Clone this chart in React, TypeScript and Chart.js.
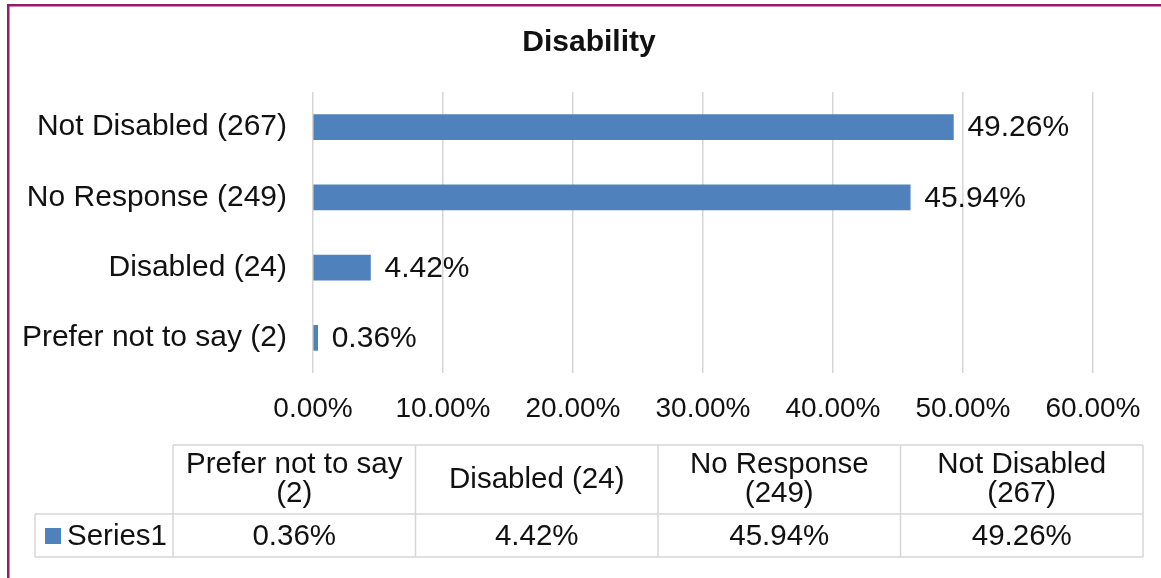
import React, { useEffect, useRef } from "react";
import { Chart, registerables } from "chart.js";

Chart.register(...registerables);

const chartTitle = "Disability";
const categories = ["Not Disabled (267)", "No Response (249)", "Disabled (24)", "Prefer not to say (2)"];
const values = [49.26, 45.94, 4.42, 0.36];
const seriesName = "Series1";
const xMin = 0;
const xMax = 60;
const xStep = 10;

const FONT = '"Liberation Sans", Arial, sans-serif';
const BAR = "#4f81bd";
const TEXT = "#111111";
const GRID = "#d6d6d6";
const FRAME = "#951a6d";

const fmt = (v: number) => v.toFixed(2) + "%";

function wrap(ctx: CanvasRenderingContext2D, text: string, maxW: number): string[] {
  const words = text.split(" ");
  const lines: string[] = [];
  let cur = "";
  for (const w of words) {
    const test = cur ? cur + " " + w : w;
    if (ctx.measureText(test).width > maxW && cur) {
      lines.push(cur);
      cur = w;
    } else cur = test;
  }
  if (cur) lines.push(cur);
  return lines;
}

const decorPlugin = {
  id: "decor",
  afterDatasetsDraw(chart: any) {
    const ctx = chart.ctx as CanvasRenderingContext2D;
    const meta = chart.getDatasetMeta(0);
    const data = chart.data.datasets[0].data as number[];
    ctx.save();
    ctx.font = `30px ${FONT}`;
    ctx.fillStyle = TEXT;
    ctx.textAlign = "left";
    ctx.textBaseline = "middle";
    meta.data.forEach((bar: any, i: number) => {
      ctx.fillText(fmt(data[i]), bar.x + 14, bar.y + 1);
    });
    ctx.restore();
  },
  afterDraw(chart: any) {
    const ctx = chart.ctx as CanvasRenderingContext2D;
    const labels = (chart.data.labels as string[]).slice().reverse();
    const data = (chart.data.datasets[0].data as number[]).slice().reverse();
    ctx.save();
    // frame
    ctx.fillStyle = FRAME;
    ctx.fillRect(7, 4, chart.width - 7, 2.5);
    ctx.fillRect(7, 4, 2.5, chart.height - 4);

    // title
    ctx.fillStyle = TEXT;
    ctx.font = `bold 30px ${FONT}`;
    ctx.textAlign = "center";
    ctx.textBaseline = "middle";
    ctx.fillText(chartTitle, 589, 43);

    // data table
    const left = 35;
    const keyRight = 173;
    const right = 1143;
    const top = 445;
    const mid = 514;
    const bottom = 557;
    const colW = (right - keyRight) / labels.length;
    ctx.strokeStyle = GRID;
    ctx.lineWidth = 1.5;
    ctx.beginPath();
    ctx.moveTo(keyRight, top);
    ctx.lineTo(right, top);
    ctx.moveTo(left, mid);
    ctx.lineTo(right, mid);
    ctx.moveTo(left, bottom);
    ctx.lineTo(right, bottom);
    ctx.moveTo(left, mid);
    ctx.lineTo(left, bottom);
    for (let i = 0; i <= labels.length; i++) {
      const x = keyRight + i * colW;
      ctx.moveTo(x, top);
      ctx.lineTo(x, bottom);
    }
    ctx.stroke();

    ctx.fillStyle = TEXT;
    ctx.font = `29.5px ${FONT}`;
    ctx.textAlign = "center";
    ctx.textBaseline = "middle";
    const headCenter = (top + mid) / 2;
    labels.forEach((lab, i) => {
      const cx = keyRight + (i + 0.5) * colW;
      const lines = wrap(ctx, lab, colW - 12);
      const lh = 29;
      lines.forEach((ln, j) => {
        ctx.fillText(ln, cx, headCenter + (j - (lines.length - 1) / 2) * lh);
      });
      ctx.fillText(fmt(data[i]), cx, (mid + bottom) / 2 + 1);
    });
    // legend key
    ctx.fillStyle = BAR;
    ctx.fillRect(45, 528, 16, 16);
    ctx.fillStyle = TEXT;
    ctx.textAlign = "left";
    ctx.fillText(seriesName, 67, (mid + bottom) / 2 + 1);
    ctx.restore();
  },
};

export default function App() {
  const ref = useRef<HTMLCanvasElement | null>(null);
  useEffect(() => {
    if (!ref.current) return;
    const chart = new Chart(ref.current, {
      type: "bar",
      data: {
        labels: categories,
        datasets: [
          {
            label: seriesName,
            data: values,
            backgroundColor: BAR,
            barThickness: 25,
          },
        ],
      },
      options: {
        indexAxis: "y",
        responsive: false,
        animation: false,
        devicePixelRatio: 1,
        layout: { padding: { left: 0, right: 68, top: 92, bottom: 0 } },
        plugins: {
          legend: { display: false },
          tooltip: { enabled: false },
          title: { display: false },
        },
        scales: {
          x: {
            min: xMin,
            max: xMax,
            afterFit: (s: any) => {
              s.height = 205;
            },
            border: { display: false },
            grid: { color: GRID, lineWidth: 1.5, drawTicks: false },
            ticks: {
              stepSize: xStep,
              padding: 19,
              color: TEXT,
              font: { family: FONT, size: 28 },
              callback: (v: any) => fmt(Number(v)),
            },
          },
          y: {
            afterFit: (s: any) => {
              s.width = 313;
            },
            border: { display: false },
            grid: { display: false, drawTicks: false },
            ticks: {
              padding: 26,
              color: TEXT,
              font: { family: FONT, size: 30 },
            },
          },
        },
      },
      plugins: [decorPlugin],
    });
    return () => chart.destroy();
  }, []);
  return (
    <div style={{ position: "absolute", left: 0, top: 0, width: 1161, height: 578, background: "#fff" }}>
      <canvas ref={ref} width={1161} height={578} style={{ display: "block" }} />
    </div>
  );
}
